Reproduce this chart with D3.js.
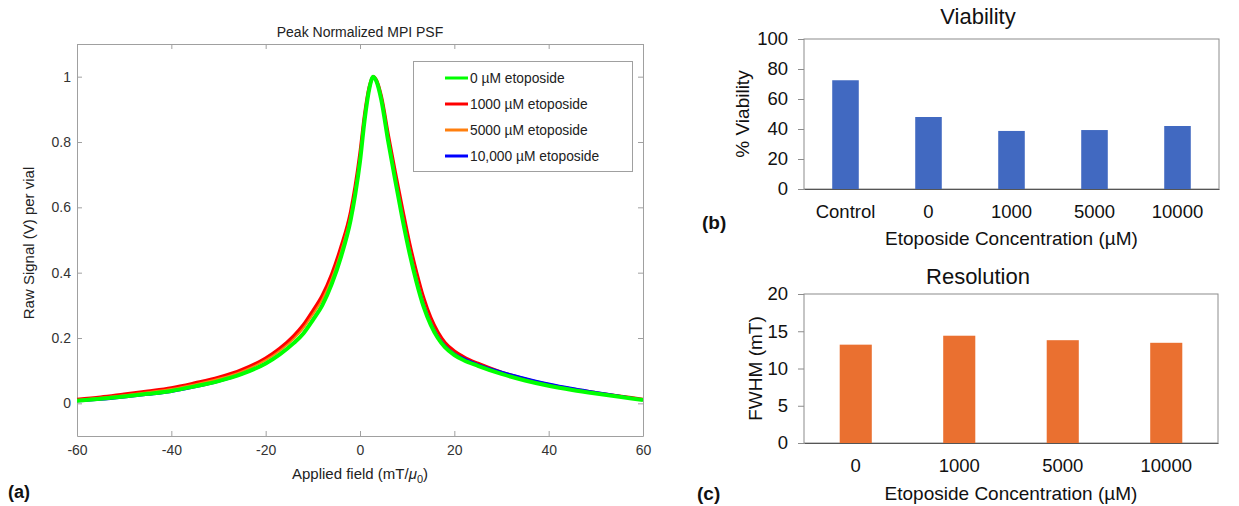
<!DOCTYPE html>
<html>
<head>
<meta charset="utf-8">
<script src="https://cdn.jsdelivr.net/npm/d3@7"></script>
<style>
  body { margin: 0; background: #fff; }
  svg { font-family: "Liberation Sans", Arial, sans-serif; }
</style>
</head>
<body>
<svg width="1239" height="506"></svg>
<script>
// PSF curves (applied field in mT, normalized signal)
const fields = [-60, -55, -50, -45, -40, -35, -30, -25, -20, -17, -14, -12, -10, -8, -6, -4, -2, -1, 0, 1, 2, 2.8, 3.5, 4.5, 6, 7.5, 9, 10.5, 12, 13.5, 15, 16.5, 18, 20, 22, 25, 30, 35, 40, 45, 50, 55, 60];
const psf0 = [0.008, 0.014, 0.021, 0.029, 0.038, 0.052, 0.068, 0.090, 0.122, 0.150, 0.185, 0.214, 0.255, 0.300, 0.365, 0.450, 0.560, 0.640, 0.740, 0.870, 0.965, 1.000, 0.985, 0.930, 0.800, 0.680, 0.565, 0.460, 0.370, 0.295, 0.240, 0.200, 0.172, 0.148, 0.132, 0.115, 0.090, 0.070, 0.054, 0.041, 0.030, 0.020, 0.010];
const psf1000 = [0.012, 0.019, 0.028, 0.037, 0.047, 0.062, 0.079, 0.103, 0.138, 0.168, 0.207, 0.240, 0.283, 0.330, 0.395, 0.480, 0.585, 0.665, 0.765, 0.885, 0.970, 1.000, 0.988, 0.940, 0.820, 0.705, 0.595, 0.490, 0.400, 0.322, 0.262, 0.218, 0.186, 0.160, 0.142, 0.122, 0.095, 0.074, 0.057, 0.043, 0.032, 0.022, 0.012];
const psf5000 = [0.010, 0.017, 0.025, 0.034, 0.044, 0.058, 0.075, 0.098, 0.132, 0.161, 0.198, 0.230, 0.272, 0.318, 0.382, 0.467, 0.575, 0.655, 0.755, 0.878, 0.968, 1.000, 0.986, 0.935, 0.810, 0.692, 0.580, 0.475, 0.385, 0.308, 0.250, 0.208, 0.178, 0.153, 0.136, 0.117, 0.091, 0.070, 0.054, 0.041, 0.030, 0.021, 0.011];
const psf10000 = [0.006, 0.011, 0.018, 0.026, 0.035, 0.049, 0.066, 0.089, 0.121, 0.150, 0.186, 0.216, 0.258, 0.303, 0.368, 0.452, 0.562, 0.642, 0.742, 0.872, 0.966, 1.000, 0.987, 0.935, 0.808, 0.690, 0.575, 0.470, 0.380, 0.305, 0.248, 0.207, 0.178, 0.153, 0.138, 0.120, 0.097, 0.078, 0.061, 0.047, 0.035, 0.023, 0.011];
const seriesNames = ["0 µM etoposide", "1000 µM etoposide", "5000 µM etoposide", "10,000 µM etoposide"];
const seriesColors = ["#00ff00", "#ff0000", "#ff7f0e", "#0000ff"];
const xTicks = [-60, -40, -20, 0, 20, 40, 60];
const yTicks = [0, 0.2, 0.4, 0.6, 0.8, 1];

// bar charts
const viabCats = ["Control", "0", "1000", "5000", "10000"];
const viability = [72.5, 48, 38.7, 39.3, 42];
const viabTicks = [0, 20, 40, 60, 80, 100];
const resCats = ["0", "1000", "5000", "10000"];
const fwhm = [13.2, 14.4, 13.8, 13.45];
const resTicks = [0, 5, 10, 15, 20];

const svg = d3.select("svg");

// ---------- (a) PSF line chart ----------
const a = { left: 77, right: 643, top: 44, bottom: 436 };
const x = d3.scaleLinear().domain([-60, 60]).range([a.left, a.right]);
const y = d3.scaleLinear().domain([-0.1, 1.1]).range([a.bottom, a.top]);

const axisGray = "#a0a0a0";
const fmt = (d) => d3.format("~g")(d).replace("−", "-");
const styleAxis = (g) => {
  g.select(".domain").attr("stroke", axisGray);
  g.selectAll(".tick line").attr("stroke", axisGray);
  g.selectAll(".tick text").attr("fill", "#333").attr("font-size", 14);
};

svg.append("g")
  .attr("transform", `translate(0,${a.bottom})`)
  .call(d3.axisBottom(x).tickValues(xTicks).tickSize(-5).tickSizeOuter(0).tickPadding(9).tickFormat(fmt))
  .call(styleAxis);
svg.append("g")
  .attr("transform", `translate(0,${a.top})`)
  .call(d3.axisTop(x).tickValues(xTicks).tickSize(-5).tickSizeOuter(0).tickFormat(""))
  .call(styleAxis);
svg.append("g")
  .attr("transform", `translate(${a.left},0)`)
  .call(d3.axisLeft(y).tickValues(yTicks).tickSize(-5).tickSizeOuter(0).tickPadding(6).tickFormat(fmt))
  .call(styleAxis);
svg.append("g")
  .attr("transform", `translate(${a.right},0)`)
  .call(d3.axisRight(y).tickValues(yTicks).tickSize(-5).tickSizeOuter(0).tickFormat(""))
  .call(styleAxis);

const line = d3.line()
  .x((d) => x(d[0]))
  .y((d) => y(d[1]))
  .curve(d3.curveMonotoneX);

const series = [psf0, psf1000, psf5000, psf10000].map((vals) => fields.map((f, i) => [f, vals[i]]));
const widths = [4, 3.5, 2, 2];
const drawOrder = [1, 2, 3, 0];

svg.append("clipPath").attr("id", "clipA")
  .append("rect").attr("x", a.left).attr("y", a.top)
  .attr("width", a.right - a.left).attr("height", a.bottom - a.top);

svg.append("g").attr("clip-path", "url(#clipA)")
  .selectAll("path")
  .data(drawOrder)
  .join("path")
  .attr("d", (i) => line(series[i]))
  .attr("fill", "none")
  .attr("stroke", (i) => seriesColors[i])
  .attr("stroke-width", (i) => widths[i])
  .attr("stroke-linejoin", "round");

svg.append("text")
  .attr("x", x(0)).attr("y", 37)
  .attr("text-anchor", "middle").attr("font-size", 14).attr("fill", "#222")
  .text("Peak Normalized MPI PSF");

const xl = svg.append("text")
  .attr("x", x(0)).attr("y", 479)
  .attr("text-anchor", "middle").attr("font-size", 15).attr("fill", "#222");
xl.append("tspan").text("Applied field (mT/");
xl.append("tspan").attr("font-style", "italic").text("μ");
xl.append("tspan").attr("font-size", 11).attr("dy", 4).text("0");
xl.append("tspan").attr("dy", -4).text(")");

svg.append("text")
  .attr("transform", `translate(34,${y(0.5) + 3}) rotate(-90)`)
  .attr("text-anchor", "middle").attr("font-size", 15).attr("fill", "#222")
  .text("Raw Signal (V) per vial");

// legend
const leg = svg.append("g");
leg.append("rect")
  .attr("x", 413.5).attr("y", 61.5).attr("width", 219).attr("height", 110)
  .attr("fill", "#fff").attr("stroke", axisGray);
const legRows = leg.selectAll("g.row")
  .data(seriesNames)
  .join("g")
  .attr("class", "row")
  .attr("transform", (d, i) => `translate(0,${78 + i * 26})`);
legRows.append("line")
  .attr("x1", 445).attr("x2", 468)
  .attr("stroke", (d, i) => seriesColors[i]).attr("stroke-width", 3);
legRows.append("text")
  .attr("x", 470).attr("dy", "0.35em")
  .attr("font-size", 13.8).attr("fill", "#222")
  .text((d) => d);

svg.append("text")
  .attr("x", 8).attr("y", 498)
  .attr("font-size", 18).attr("font-weight", "bold").attr("fill", "#111")
  .text("(a)");

// ---------- bar chart helper ----------
function barChart(opt) {
  const xb = d3.scaleBand().domain(opt.cats).range([opt.left, opt.right])
    .paddingInner(opt.padding).paddingOuter(opt.padding / 2);
  const yb = d3.scaleLinear().domain([0, opt.max]).range([opt.bottom, opt.top]);

  svg.append("rect")
    .attr("x", opt.left).attr("y", opt.top)
    .attr("width", opt.right - opt.left).attr("height", opt.bottom - opt.top)
    .attr("fill", "none").attr("stroke", "#8c8c8c");

  svg.append("g")
    .selectAll("rect")
    .data(opt.values)
    .join("rect")
    .attr("x", (d, i) => xb(opt.cats[i]))
    .attr("y", (d) => yb(d))
    .attr("width", xb.bandwidth())
    .attr("height", (d) => yb(0) - yb(d))
    .attr("fill", opt.color);

  const gy = svg.append("g")
    .attr("transform", `translate(${opt.left},0)`)
    .call(d3.axisLeft(yb).tickValues(opt.ticks).tickSize(6).tickPadding(10));
  gy.select(".domain").remove();
  gy.selectAll(".tick line").attr("stroke", "#8c8c8c");
  gy.selectAll(".tick text").attr("font-size", 18.5).attr("fill", "#111");

  const gx = svg.append("g")
    .attr("transform", `translate(0,${opt.bottom})`)
    .call(d3.axisBottom(xb).tickSize(0).tickPadding(16));
  gx.select(".domain").attr("stroke", "#555");
  gx.selectAll(".tick text").attr("font-size", 18.5).attr("fill", "#111");

  svg.append("text")
    .attr("x", opt.titleX).attr("y", opt.titleY)
    .attr("text-anchor", "middle").attr("font-size", 22).attr("fill", "#111")
    .text(opt.title);

  svg.append("text")
    .attr("x", (opt.left + opt.right) / 2).attr("y", opt.xLabelY)
    .attr("text-anchor", "middle").attr("font-size", 19).attr("fill", "#111")
    .text("Etoposide Concentration (µM)");

  svg.append("text")
    .attr("transform", `translate(${opt.yLabelX},${(opt.top + opt.bottom) / 2}) rotate(-90)`)
    .attr("text-anchor", "middle").attr("font-size", 19).attr("fill", "#111")
    .text(opt.yLabel);

  svg.append("text")
    .attr("x", opt.tagX).attr("y", opt.tagY)
    .attr("font-size", 19).attr("font-weight", "bold").attr("fill", "#111")
    .text(opt.tag);
}

// ---------- (b) viability ----------
barChart({
  cats: viabCats, values: viability, ticks: viabTicks, max: 100,
  left: 804, right: 1219, top: 39, bottom: 189, padding: 0.68,
  color: "#4169c1", title: "Viability", titleX: 978, titleY: 24,
  xLabelY: 245, yLabel: "% Viability", yLabelX: 749,
  tag: "(b)", tagX: 702, tagY: 229
});

// ---------- (c) resolution ----------
barChart({
  cats: resCats, values: fwhm, ticks: resTicks, max: 20,
  left: 804, right: 1218, top: 294, bottom: 443, padding: 0.69,
  color: "#ea7030", title: "Resolution", titleX: 978, titleY: 284,
  xLabelY: 500, yLabel: "FWHM (mT)", yLabelX: 762,
  tag: "(c)", tagX: 697, tagY: 500
});
</script>
</body>
</html>
